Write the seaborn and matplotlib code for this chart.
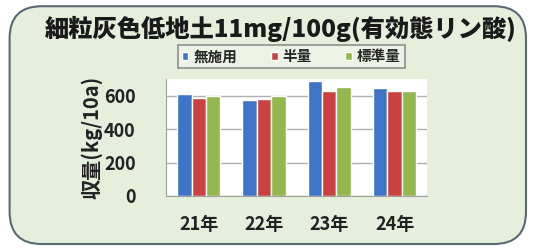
import pandas as pd
import matplotlib.pyplot as plt
import seaborn as sns
from matplotlib.patches import FancyBboxPatch

years = ["21年", "22年", "23年", "24年"]
treatments = ["無施用", "半量", "標準量"]
museyou = [607, 571, 686, 647]
hanryou = [583, 579, 627, 627]
hyoujun = [595, 595, 650, 627]
colors = ["#3f74c6", "#c9423f", "#93b84e"]

df = pd.DataFrame({
    "year": years * 3,
    "treatment": [t for t in treatments for _ in years],
    "yield": museyou + hanryou + hyoujun,
})

sns.set_style("white")
plt.rcParams["font.family"] = ["Noto Sans CJK JP", "DejaVu Sans"]

fig = plt.figure(figsize=(5.34, 2.49), dpi=100)
fig.patch.set_facecolor("white")

box = FancyBboxPatch((0.018, 0.02), 0.967, 0.955,
                     boxstyle="round,pad=0,rounding_size=0.06",
                     transform=fig.transFigure, facecolor="#e6efdc",
                     edgecolor="#5a6a72", linewidth=1.5,
                     mutation_aspect=534 / 249, zorder=-10)
fig.patches.append(box)

ax = fig.add_axes([0.311, 0.213, 0.489, 0.47])
ax.set_zorder(5)
sns.barplot(data=df, x="year", y="yield", hue="treatment", palette=colors,
            width=0.66, ax=ax, saturation=1, legend=True)

ax.set_ylim(0, 700)
ax.set_yticks([0, 200, 400, 600])
ax.set_facecolor("white")
ax.grid(axis="y", color="#b0b0b0", linewidth=1)
ax.set_axisbelow(True)
for s in ["top", "right"]:
    ax.spines[s].set_visible(False)
for s in ["left", "bottom"]:
    ax.spines[s].set_color("#a0a0a0")
ax.tick_params(axis="both", length=0, labelsize=13, colors="#222222")
ax.tick_params(axis="x", pad=14)
ax.tick_params(axis="y", pad=22)
for lbl in ax.get_xticklabels() + ax.get_yticklabels():
    lbl.set_fontweight("bold")
ax.set_xlabel("")
ax.set_ylabel("収量(kg/10a)", fontsize=14.5, fontweight="bold", color="#222222", labelpad=1)

leg = ax.legend(loc="lower center", bbox_to_anchor=(-0.02, 1.03, 1.0, 0.2), ncol=3,
                frameon=True, handlelength=0.45, handleheight=0.45,
                handletextpad=0.35, columnspacing=2.3, borderpad=0.25,
                fancybox=False, prop={"weight": "bold", "size": 10.5})
leg.get_frame().set_edgecolor("#777777")
leg.get_frame().set_linewidth(1.2)
leg.get_frame().set_facecolor("#eef4e8")

fig.text(0.525, 0.885, "細粒灰色低地土11mg/100g(有効態リン酸)", ha="center", va="center",
         fontsize=17.5, fontweight="heavy", color="#1a1a1a")

fig.savefig("out.png", dpi=100, facecolor=fig.get_facecolor())
